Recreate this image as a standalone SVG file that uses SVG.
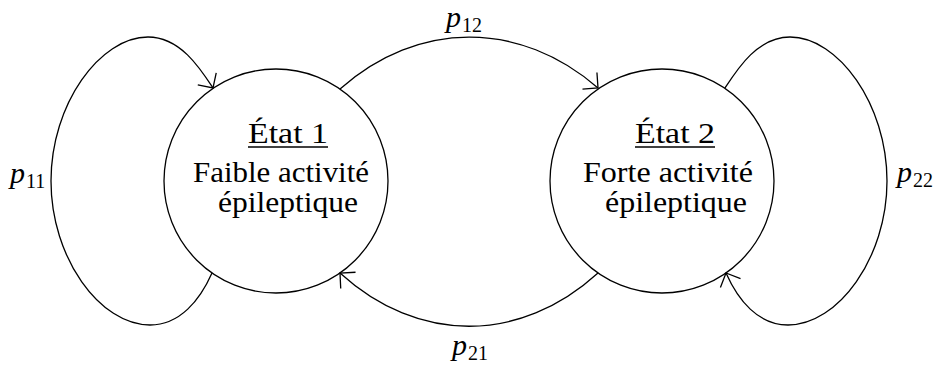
<svg xmlns="http://www.w3.org/2000/svg" width="936" height="365" viewBox="0 0 936 365">
<style>
.node{fill:none;stroke:#000;stroke-width:1.3}
.edge{fill:none;stroke:#000;stroke-width:1.3;marker-end:url(#arr)}
text{font-family:"Liberation Serif","Times New Roman",serif;fill:#000}
.t{font-size:29px}
.m{font-style:italic;font-size:30px}
.s{font-size:20px}
.ul{stroke:#000;stroke-width:1.3}
</style>
<defs>
<marker id="arr" markerUnits="userSpaceOnUse" markerWidth="30" markerHeight="30" viewBox="-15 -15 30 30" refX="0" refY="0" orient="auto" overflow="visible">
<path d="M-11,-11 L0,0 L-11,11" fill="none" stroke="#000" stroke-width="1.3"/>
</marker>
</defs>
<g id="edges">
<path id="e11" class="edge" d="M212,273 C200,300 180,325 150,325 C100,325 51,258 51,181 C51,104 100,37 148,37 C180,37 200,68 213,88"/>
<path id="e12" class="edge" d="M340,89 C418,20 520,20 598,88"/>
<path id="e21" class="edge" d="M598,273 C520,344 418,344 340,273"/>
<path id="e22" class="edge" d="M725,88 C738,68 758,37 790,37 C838,37 887,104 887,181 C887,258 838,325 788,325 C758,325 738,300 726,273"/>
</g>
<g id="labels">
<text class="m" x="10" y="183">p</text><text class="s" x="26" y="188">11</text>
<text class="m" x="446" y="27">p</text><text class="s" x="462" y="32">12</text>
<text class="m" x="452" y="355">p</text><text class="s" x="468" y="360">21</text>
<text class="m" x="897" y="182">p</text><text class="s" x="913" y="187">22</text>
</g>
<g id="state1">
<circle class="node" cx="276" cy="181" r="112"/>
<text class="t" x="248" y="143" textLength="80" lengthAdjust="spacingAndGlyphs">État 1</text>
<line class="ul" x1="248" y1="147" x2="328" y2="147"/>
<text class="t" x="193" y="182" textLength="176" lengthAdjust="spacingAndGlyphs">Faible activité</text>
<text class="t" x="218" y="212" textLength="140" lengthAdjust="spacingAndGlyphs">épileptique</text>
</g>
<g id="state2">
<circle class="node" cx="662" cy="181" r="112"/>
<text class="t" x="635" y="143" textLength="80" lengthAdjust="spacingAndGlyphs">État 2</text>
<line class="ul" x1="635" y1="147" x2="715" y2="147"/>
<text class="t" x="583" y="182" textLength="170" lengthAdjust="spacingAndGlyphs">Forte activité</text>
<text class="t" x="605" y="212" textLength="142" lengthAdjust="spacingAndGlyphs">épileptique</text>
</g>
</svg>
